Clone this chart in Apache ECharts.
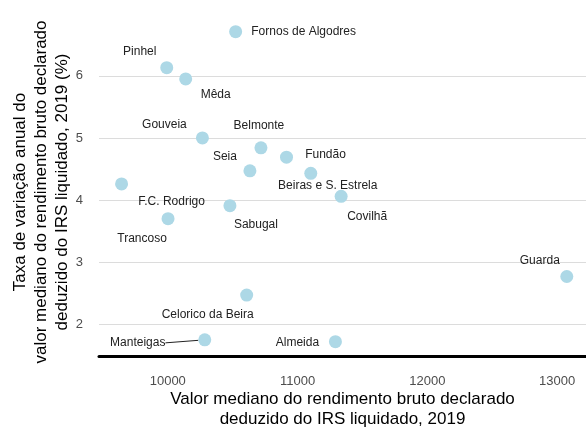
<!DOCTYPE html>
<html>
<head>
<meta charset="utf-8">
<script src="https://cdn.jsdelivr.net/npm/echarts@6/dist/echarts.min.js"></script>
<style>
  html, body { margin: 0; padding: 0; background: #fff; }
  #main { width: 586px; height: 428px; }
</style>
</head>
<body>
<div id="main"></div>
<script>
// concelhos (municipalities)
const names = ['Fornos de Algodres', 'Pinhel', 'Mêda', 'Gouveia', 'Belmonte', 'Fundão', 'Seia',
  'Beiras e S. Estrela', 'F.C. Rodrigo', 'Covilhã', 'Sabugal', 'Trancoso', 'Guarda',
  'Celorico da Beira', 'Manteigas', 'Almeida']
// median income (x) and annual change % (y)
const income = [10523, 9992, 10138, 10267, 10718, 10915, 10633, 11102, 9644, 11336, 10479, 10002, 13075, 10608, 10285, 11292]
const growth = [6.71, 6.13, 5.95, 5.00, 4.84, 4.69, 4.47, 4.43, 4.26, 4.06, 3.91, 3.70, 2.77, 2.47, 1.75, 1.72]
const xTicks = [10000, 11000, 12000, 13000]
const yTicks = [2, 3, 4, 5, 6]

// where each label sits relative to its point (px)
const labelShift = {
  'Fornos de Algodres': [68, 0],
  'Pinhel': [-27, -16],
  'Mêda': [30, 16],
  'Gouveia': [-38, -13],
  'Belmonte': [-2, -22],
  'Fundão': [39, -2],
  'Seia': [-25, -14],
  'Beiras e S. Estrela': [17, 12],
  'F.C. Rodrigo': [50, 18],
  'Covilhã': [26, 20],
  'Sabugal': [26, 19],
  'Trancoso': [-26, 20],
  'Guarda': [-27, -16],
  'Celorico da Beira': [-39, 20],
  'Manteigas': [-67, 3],
  'Almeida': [-38, 1]
}

const chart = echarts.init(document.getElementById('main'))

const points = names.map((n, i) => ({
  name: n,
  value: [income[i], growth[i]],
  labelLine: { show: n === 'Manteigas' }
}))

const font = 'Liberation Sans, Arial, sans-serif'

chart.setOption({
  animation: false,
  grid: { left: 99, right: 0, top: 0, bottom: 72, outerBoundsMode: 'none' },
  xAxis: {
    type: 'value',
    min: 9470,
    max: 13223,
    axisLine: { show: true, onZero: false, lineStyle: { color: '#000', width: 3 } },
    axisTick: { show: false },
    splitLine: { show: false },
    axisLabel: {
      customValues: xTicks, color: '#4d4d4d', fontSize: 13, fontFamily: font, margin: 19,
      formatter: v => String(v)
    },
    name: 'Valor mediano do rendimento bruto declarado\ndeduzido do IRS liquidado, 2019',
    nameLocation: 'middle',
    nameMoveOverlap: false,
    nameGap: 33,
    nameTextStyle: { color: '#000', fontSize: 17, fontFamily: font, lineHeight: 20, verticalAlign: 'top' }
  },
  yAxis: {
    type: 'value',
    min: 1.49,
    max: 7.22,
    axisLine: { show: false },
    axisTick: { show: false, customValues: yTicks },
    splitLine: { show: true, lineStyle: { color: '#dcdcdc', width: 1 } },
    axisLabel: {
      customValues: yTicks, color: '#4d4d4d', fontSize: 13, fontFamily: font, margin: 16
    },
    name: 'Taxa de variação anual do\nvalor mediano do rendimento bruto declarado\ndeduzido do IRS liquidado, 2019 (%)',
    nameLocation: 'middle',
    nameMoveOverlap: false,
    nameGap: 26,
    nameTextStyle: { color: '#000', fontSize: 17, fontFamily: font, lineHeight: 21, padding: [0, 28, 0, 0] }
  },
  series: [{
    type: 'scatter',
    symbolSize: 13,
    itemStyle: { color: '#add8e6', opacity: 1 },
    data: points,
    label: {
      show: true,
      position: 'inside',
      formatter: p => p.name,
      color: '#222',
      fontSize: 12,
      fontFamily: font
    },
    labelLine: { show: false, lineStyle: { color: '#222', width: 1 } },
    labelLayout: p => {
      const s = labelShift[names[p.dataIndex]]
      return { dx: s[0], dy: s[1] }
    }
  }]
})
</script>
</body>
</html>
